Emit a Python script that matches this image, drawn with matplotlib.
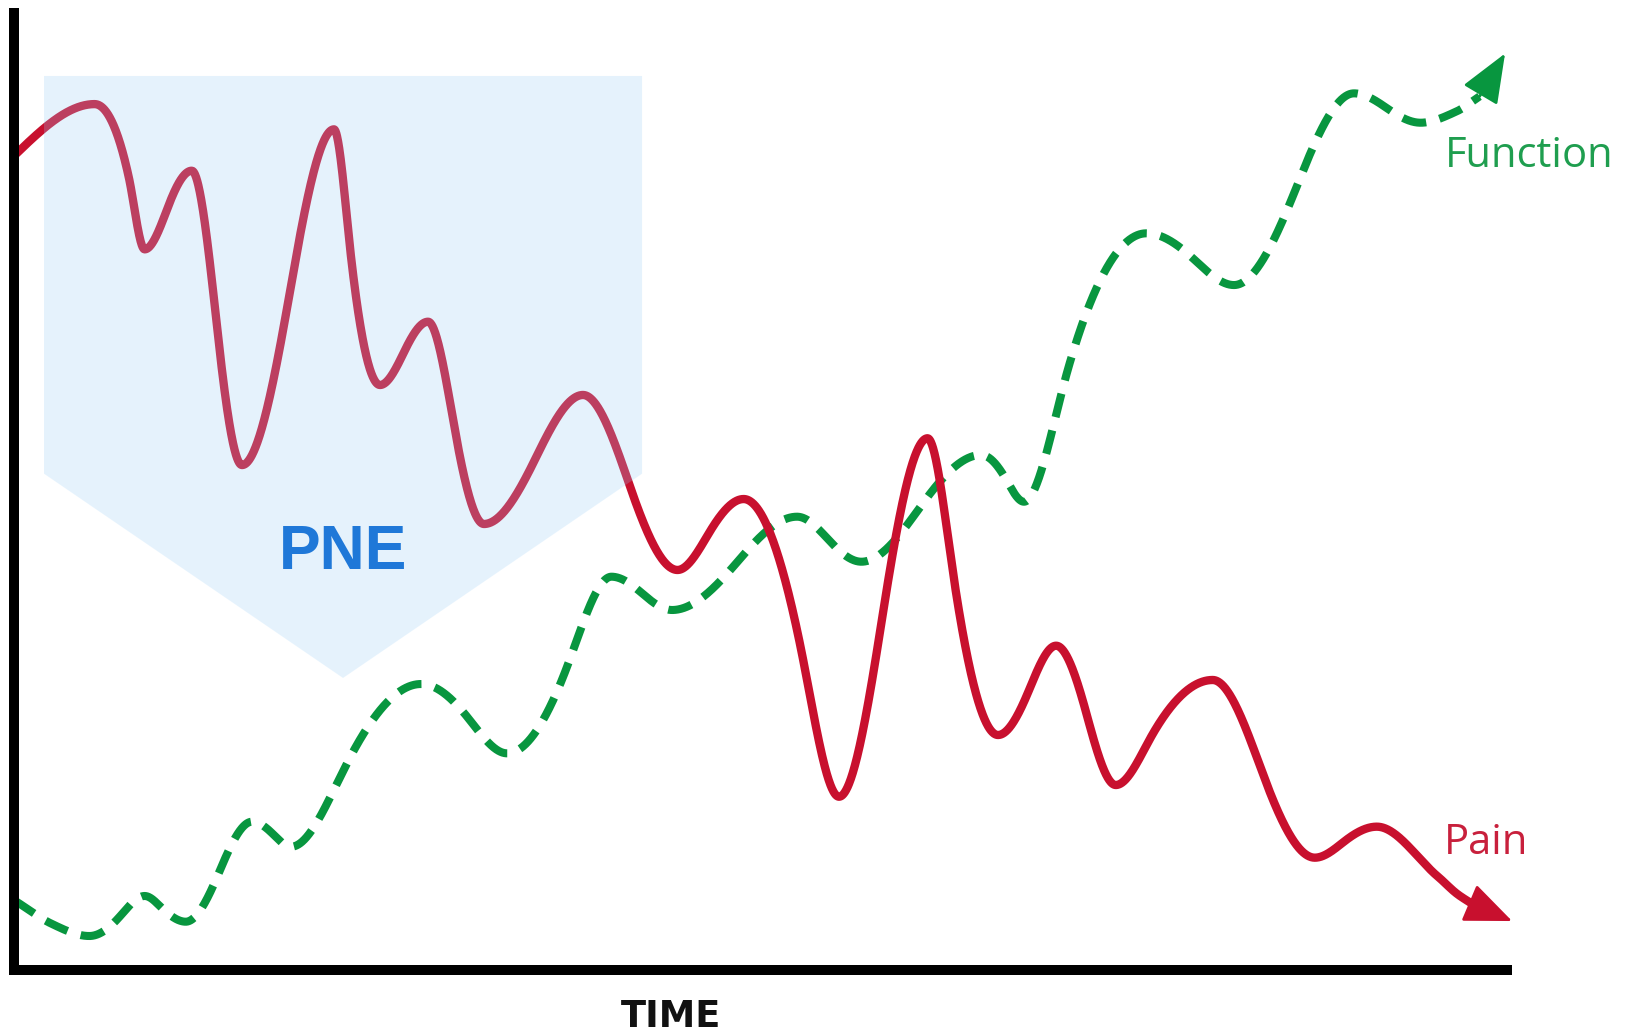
import numpy as np
import matplotlib
matplotlib.use("Agg")
import matplotlib.pyplot as plt
from matplotlib.patches import Polygon

# ---- Pain curve (time, level): turning points and mid-slope crossings ----
pain_t = [0.0, 5.37, 7.65, 8.71, 10.27, 11.85, 13.47, 15.2, 18.33, 21.33,
          22.47, 24.4, 25.97, 27.6, 29.31, 31.33, 34.78, 37.93, 40.97, 44.23,
          46.27, 48.64, 52.45, 55.0, 57.93, 60.9, 62.67, 65.6, 67.67, 69.47,
          71.53, 73.45, 75.97, 79.91, 83.13, 86.72, 88.63, 90.85, 94.93,
          96.13, 97.3]
pain_v = [84.8, 90.2, 82.6, 75.07, 79.5, 83.26, 67.9, 52.6, 70.1, 87.57,
          74.25, 60.94, 64.27, 67.53, 56.98, 46.46, 53.33, 59.9, 50.8, 41.67,
          45.36, 49.06, 33.55, 18.05, 37.19, 55.39, 40.63, 24.48, 29.17, 33.78,
          26.5, 19.27, 24.74, 30.21, 20.96, 11.7, 13.33, 14.93, 9.72,
          8.02, 6.8]
pain_tip = (99.87, 5.1)

# ---- Function curve (time, level) ----
func_t = [0.0, 2.45, 5.02, 7.04, 8.71, 9.53, 11.45, 13.69, 15.87, 17.3, 18.47,
          22.12, 27.13, 30.3, 32.87, 36.92, 39.83, 41.9, 43.87, 48.16, 52.2,
          54.25, 56.49, 60.35, 64.47, 66.1, 67.33, 70.3, 75.49, 78.65, 81.33,
          85.43, 89.33, 91.5, 93.77, 96.13, 97.7]
func_v = [7.29, 4.86, 3.54, 5.55, 7.71, 6.95, 5.03, 10.24, 15.45, 14.1, 12.84,
          21.3, 29.79, 26.2, 22.57, 31.8, 40.97, 39.2, 37.5, 42.4, 47.22,
          44.9, 42.53, 48.1, 53.65, 51.2, 48.78, 62.8, 76.74, 74.05, 71.35,
          81.3, 91.32, 89.8, 88.26, 89.41, 91.0]
func_tip = (99.4, 95.47)

# ---- PNE window (shaded pentagon) ----
pne_start, pne_end = 2.0, 41.87
pne_top, pne_shoulder, pne_point = 93.13, 51.7, 30.42

RED = "#c8102e"
GREEN = "#08963f"


def smooth_curve(x, y, xs):
    """Cubic Hermite curve through (x, y) with flat tangents at turning
    points and wave-like tangents on the slopes between them."""
    x = np.asarray(x, float)
    y = np.asarray(y, float)
    n = len(x)
    h = np.diff(x)
    d = np.diff(y) / h
    turn = np.zeros(n, bool)
    turn[1:-1] = d[:-1] * d[1:] <= 0
    m = np.zeros(n)
    m[0] = d[0] * (1.5 if turn[1] else 1.0)
    m[-1] = d[-1]
    for i in range(1, n - 1):
        if turn[i]:
            continue
        c = (y[i + 1] - y[i - 1]) / (x[i + 1] - x[i - 1])
        if turn[i - 1] and turn[i + 1]:
            c *= np.pi / 2
        cap = 3 * min(abs(d[i - 1]), abs(d[i]))
        m[i] = np.sign(c) * min(abs(c), cap)
    idx = np.clip(np.searchsorted(x, xs) - 1, 0, n - 2)
    t = (xs - x[idx]) / h[idx]
    h00 = 2 * t**3 - 3 * t**2 + 1
    h10 = t**3 - 2 * t**2 + t
    h01 = -2 * t**3 + 3 * t**2
    h11 = t**3 - t**2
    return h00 * y[idx] + h10 * h[idx] * m[idx] + h01 * y[idx + 1] + h11 * h[idx] * m[idx + 1]


fig = plt.figure(figsize=(16.42, 10.36), dpi=100, facecolor="white")
W, H = 1642, 1036
ax = fig.add_axes([14 / W, (H - 970) / H, (1507 - 14) / W, (970 - 13) / H])
ax.set_xlim(0, 99.53)
ax.set_ylim(0, 99.69)
ax.set_xticks([])
ax.set_yticks([])
for s in ("top", "right"):
    ax.spines[s].set_visible(False)
for s in ("left", "bottom"):
    ax.spines[s].set_linewidth(7.2)
    ax.spines[s].set_color("black")
    ax.spines[s].set_capstyle("projecting")
    ax.spines[s].set_zorder(5)

# Function (dashed green)
ft = np.linspace(func_t[0], func_t[-1], 4000)
ax.plot(ft, smooth_curve(func_t, func_v, ft), color=GREEN, lw=5.8,
        dashes=(3.0, 1.7), dash_capstyle="butt", clip_on=False, zorder=2)
ax.annotate("", xy=func_tip, xytext=(func_t[-1], func_v[-1]),
            arrowprops=dict(arrowstyle="-|>,head_length=31,head_width=12.5",
                            mutation_scale=1, color=GREEN, lw=2,
                            shrinkA=0, shrinkB=0),
            annotation_clip=False, zorder=2)

# Pain (solid red)
pt = np.linspace(pain_t[0], pain_t[-1], 4000)
ax.plot(pt, smooth_curve(pain_t, pain_v, pt), color=RED, lw=6.0,
        solid_capstyle="butt", clip_on=False, zorder=3)
ax.annotate("", xy=pain_tip, xytext=(pain_t[-1], pain_v[-1]),
            arrowprops=dict(arrowstyle="-|>,head_length=30,head_width=12.5",
                            mutation_scale=1, color=RED, lw=2,
                            shrinkA=0, shrinkB=0),
            annotation_clip=False, zorder=3)

# PNE shaded window laid over the curves
pne = Polygon([(pne_start, pne_top), (pne_end, pne_top), (pne_end, pne_shoulder),
               ((pne_start + pne_end) / 2, pne_point), (pne_start, pne_shoulder)],
              closed=True, facecolor="#9bcff7", edgecolor="none", alpha=0.25,
              zorder=4)
ax.add_patch(pne)

ax.text(21.93, 43.5, "PNE", color="#1f78d8", fontsize=45, fontweight="bold",
        family=["Liberation Sans", "DejaVu Sans"], ha="center", va="center",
        zorder=6)

ax.text(95.4, 83.6, "Function", color="#1f9e4f", fontsize=30,
        family=["Open Sans", "DejaVu Sans"], ha="left", va="baseline", zorder=6)
ax.text(95.33, 12.08, "Pain", color="#c8203c", fontsize=30,
        family=["Open Sans", "DejaVu Sans"], ha="left", va="baseline", zorder=6)
ax.text(43.83, -5.95, "TIME", color="#111111", fontsize=26.5, fontweight="bold",
        family=["DejaVu Sans"], ha="center", va="baseline",
        clip_on=False, zorder=6)

fig.savefig("out.png", dpi=100, facecolor="white")
